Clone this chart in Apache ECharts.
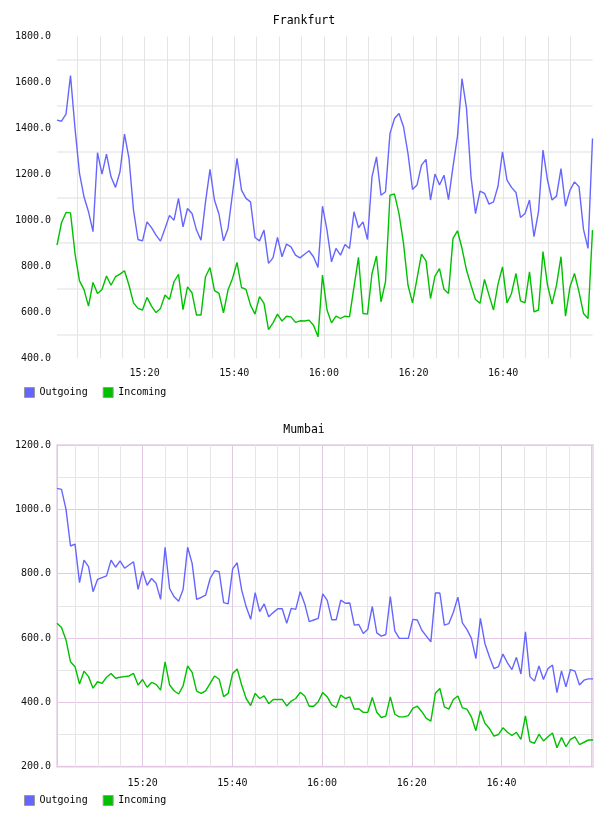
<!DOCTYPE html>
<html>
<head>
<meta charset="utf-8">
<title>Frankfurt / Mumbai traffic</title>
<script src="https://cdn.jsdelivr.net/npm/echarts@6/dist/echarts.min.js"></script>
<style>
  html, body { margin: 0; padding: 0; background: #fff; }
  #chart { width: 608px; height: 816px; }
</style>
</head>
<body>
<div id="chart"></div>
<script>
// sample times are seconds after 15:00:00, roughly one sample a minute
const fraStartSec = 27;
const mumStartSec = 54;
const sampleStepSec = 60.25;

const fraOutgoing = [
  1436, 1431, 1462, 1630, 1400, 1204, 1102, 1037, 950, 1294,
  1201, 1288, 1189, 1143, 1211, 1375, 1269, 1044, 916, 910,
  993, 968, 935, 909, 964, 1021, 1000, 1095, 971, 1051,
  1029, 957, 913, 1080, 1221, 1087, 1026, 910, 964, 1116,
  1269, 1131, 1095, 1080, 925, 910, 957, 812, 836, 925,
  841, 896, 884, 848, 836, 852, 867, 841, 794, 1061,
  957, 819, 877, 848, 894, 877, 1037, 967, 993, 916,
  1189, 1276, 1109, 1124, 1378, 1443, 1465, 1407, 1290, 1134,
  1153, 1240, 1265, 1088, 1201, 1153, 1196, 1090, 1233, 1366,
  1617, 1487, 1189, 1029, 1127, 1117, 1070, 1080, 1148, 1298,
  1175, 1143, 1121, 1012, 1029, 1088, 928, 1037, 1305, 1175,
  1088, 1105, 1225, 1061, 1131, 1167, 1146, 960, 877, 1356
];
const fraIncoming = [
  892, 989, 1034, 1032, 855, 736, 698, 626, 729, 681,
  698, 757, 717, 754, 765, 780, 717, 640, 616, 609,
  664, 626, 598, 616, 674, 655, 732, 764, 611, 710,
  684, 587, 587, 754, 794, 693, 681, 597, 696, 746,
  816, 707, 699, 630, 591, 667, 638, 524, 553, 591,
  561, 582, 579, 555, 562, 561, 565, 543, 492, 761,
  609, 553, 582, 572, 582, 579, 710, 838, 594, 591,
  768, 844, 645, 732, 1109, 1114, 1029, 899, 717, 640,
  746, 852, 823, 659, 757, 789, 699, 681, 921, 954,
  877, 783, 717, 655, 638, 742, 674, 609, 722, 797,
  640, 681, 768, 649, 640, 775, 601, 609, 863, 717,
  635, 717, 841, 582, 710, 768, 688, 594, 572, 957
];
const mumOutgoing = [
  1065, 1062, 1000, 886, 892, 772, 842, 822, 744, 782,
  788, 793, 842, 820, 840, 817, 827, 837, 751, 808,
  764, 785, 770, 720, 882, 754, 728, 714, 751, 882,
  832, 720, 726, 733, 785, 809, 806, 710, 706, 815,
  834, 749, 697, 658, 741, 682, 706, 666, 679, 691,
  691, 646, 692, 689, 744, 706, 651, 656, 661, 737,
  717, 657, 657, 718, 708, 709, 640, 642, 614, 627,
  698, 616, 606, 611, 729, 622, 599, 599, 599, 658,
  656, 624, 606, 588, 740, 740, 640, 645, 680, 727,
  647, 627, 599, 536, 661, 583, 542, 505, 511, 550,
  523, 502, 540, 488, 619, 480, 466, 513, 471, 505,
  516, 430, 498, 448, 502, 497, 454, 469, 473, 473
];
const mumIncoming = [
  646, 633, 594, 526, 511, 457, 497, 480, 444, 464,
  459, 478, 490, 475, 478, 480, 482, 490, 454, 471,
  447, 462, 456, 438, 526, 454, 436, 426, 451, 513,
  493, 435, 428, 436, 459, 482, 472, 418, 428, 490,
  504, 454, 412, 390, 428, 412, 420, 396, 409, 409,
  409, 389, 404, 412, 431, 420, 388, 388, 402, 431,
  417, 392, 384, 423, 412, 417, 379, 380, 369, 369,
  415, 369, 353, 357, 417, 363, 355, 355, 359, 381,
  388, 371, 350, 342, 428, 443, 386, 379, 409, 420,
  383, 379, 355, 312, 374, 335, 319, 295, 300, 321,
  307, 297, 307, 285, 358, 278, 273, 301, 280, 293,
  305, 259, 291, 262, 285, 293, 269, 276, 283, 283
];

const seriesNames = ['Outgoing', 'Incoming'];
const chartTitles = ['Frankfurt', 'Mumbai'];
const fraRange = [400, 1800];
const mumRange = [200, 1200];

const BLUE = '#6666ff';
const GREEN = '#00c000';
const MONO = '"DejaVu Sans Mono", monospace';
const PURPLE = '#e2c8e2';
const GREY = '#e6e6e6';

function toPairs(startSec, values) {
  return values.map((v, i) => [(startSec + i * sampleStepSec) / 60, v]);
}

// minutes after 15:00 -> "HH:MM", only every 20 minutes
function clockLabel(min) {
  if (min % 20 !== 0 || min < 20 || min > 100) return '';
  const h = 15 + Math.floor(min / 60);
  const m = min % 60;
  return h + ':' + String(m).padStart(2, '0');
}

function yLabel(v) {
  return v % 200 === 0 ? v.toFixed(1) : '';
}

const fraOut = toPairs(fraStartSec, fraOutgoing);
const fraIn = toPairs(fraStartSec, fraIncoming);
const mumOut = toPairs(mumStartSec, mumOutgoing);
const mumIn = toPairs(mumStartSec, mumIncoming);

const axisFont = { fontFamily: MONO, fontSize: 10, color: '#111' };

function xAxisFor(idx, data, lineColors) {
  return {
    type: 'value',
    gridIndex: idx,
    min: data[0][0],
    max: data[data.length - 1][0],
    minInterval: 5,
    maxInterval: 5,
    axisLine: { show: false },
    axisTick: { show: false },
    axisLabel: Object.assign({ formatter: clockLabel, margin: idx === 0 ? 10.5 : 11.5 }, axisFont),
    splitLine: {
      show: true,
      showMinLine: idx === 1,
      showMaxLine: false,
      lineStyle: { color: lineColors, width: 1 }
    }
  };
}

function yAxisFor(idx, range, lineColors, lineWidth) {
  return {
    type: 'value',
    gridIndex: idx,
    min: range[0],
    max: range[1],
    interval: 100,
    axisLine: { show: false },
    axisTick: { show: false },
    axisLabel: Object.assign({ formatter: yLabel, margin: 6 }, axisFont),
    splitLine: { show: true, lineStyle: { color: lineColors, width: lineWidth } }
  };
}

function legendAt(top) {
  return {
    data: seriesNames,
    left: 24,
    top: top,
    padding: 0,
    icon: 'rect',
    itemWidth: 10,
    itemHeight: 10,
    itemGap: 15,
    itemStyle: { borderColor: '#999', borderWidth: 1 },
    textStyle: { fontFamily: MONO, fontSize: 10, color: '#000', padding: [0, 0, 0, 0] },
    selectedMode: false
  };
}

function lineSeries(name, color, idx, data) {
  return {
    name: name,
    type: 'line',
    xAxisIndex: idx,
    yAxisIndex: idx,
    data: data,
    symbol: 'none',
    lineStyle: { color: color, width: 1.4 },
    itemStyle: { color: color }
  };
}

const chart = echarts.init(document.getElementById('chart'));
chart.setOption({
  animation: false,
  backgroundColor: '#fff',
  title: chartTitles.map((t, i) => ({
    text: t,
    left: 'center',
    top: i === 0 ? 15 : 424,
    padding: 0,
    textStyle: { fontFamily: MONO, fontSize: 11.5, fontWeight: 'normal', color: '#000' }
  })),
  legend: [legendAt(387), legendAt(795)],
  grid: [
    { left: 57, top: 36.5, width: 535.5, height: 321.5, show: false },
    { left: 57, top: 445, width: 536, height: 321.7, show: true,
      borderColor: '#ecdcec', borderWidth: 2, backgroundColor: 'transparent' }
  ],
  xAxis: [
    xAxisFor(0, fraOut, '#e4e4e4'),
    xAxisFor(1, mumOut, [PURPLE, GREY, GREY, GREY])
  ],
  yAxis: [
    yAxisFor(0, fraRange, ['rgba(0,0,0,0)', '#efefef'], 2),
    yAxisFor(1, mumRange, [PURPLE, GREY], 1)
  ],
  series: [
    lineSeries(seriesNames[0], BLUE, 0, fraOut),
    lineSeries(seriesNames[1], GREEN, 0, fraIn),
    lineSeries(seriesNames[0], BLUE, 1, mumOut),
    lineSeries(seriesNames[1], GREEN, 1, mumIn)
  ]
});
</script>
</body>
</html>
